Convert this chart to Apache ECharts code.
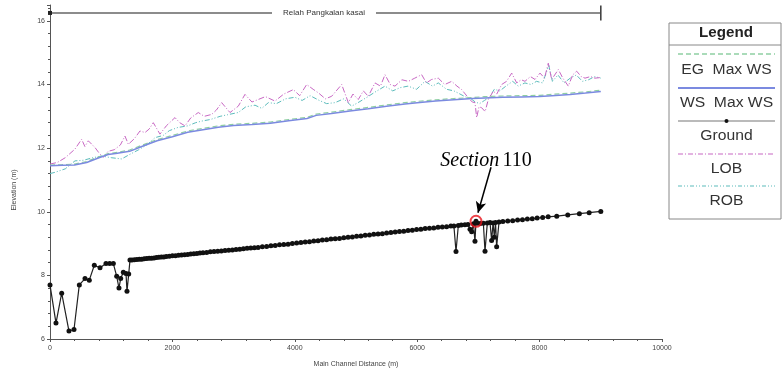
<!DOCTYPE html>
<html>
<head>
<meta charset="utf-8">
<script src="https://cdn.jsdelivr.net/npm/echarts@6/dist/echarts.min.js"></script>
<style>
  html, body { margin: 0; padding: 0; background: #fff; }
  #chart { width: 783px; height: 373px; }
</style>
</head>
<body>
<div id="chart"></div>
<script>
// Longitudinal profile of the reach: stations (m) and elevations (m)

const groundStation = [0, 98, 191, 310, 392, 479, 572, 642, 724, 817, 915, 975, 1035, 1090, 1127, 1155, 1198, 1242, 1258, 1286, 1307,
  1340, 1380, 1420, 1460, 1500, 1540, 1580, 1620, 1660, 1700, 1740, 1780, 1820, 1860, 1900, 1950, 2000, 2050, 2100, 2150, 2200,
  2250, 2300, 2350, 2400, 2450, 2500, 2560, 2620, 2680, 2740, 2800, 2860, 2920, 2980, 3040, 3100, 3160, 3220, 3280, 3340, 3400,
  3470, 3540, 3610, 3680, 3750, 3820, 3890, 3960, 4030, 4100, 4170, 4240, 4310, 4380, 4450, 4520, 4590, 4660, 4730, 4800, 4870,
  4940, 5010, 5080, 5150, 5220, 5290, 5360, 5430, 5500, 5570, 5640, 5710, 5780, 5850, 5920, 5990, 6060, 6130, 6200, 6270, 6340,
  6410, 6480, 6550, 6600, 6634, 6672, 6720, 6780, 6830, 6863, 6890, 6920, 6944, 6961, 6982, 7030, 7081, 7108, 7146, 7190, 7216,
  7240, 7260, 7280, 7298, 7337, 7400, 7480, 7560, 7640, 7720, 7800, 7880, 7960, 8050, 8140, 8280, 8460, 8650, 8810, 9000];
const groundElev = [7.70, 6.50, 7.44, 6.25, 6.30, 7.70, 7.90, 7.85, 8.32, 8.24, 8.37, 8.37, 8.37, 7.97, 7.60, 7.90, 8.10, 8.06, 7.50, 8.04, 8.48,
  8.48, 8.49, 8.50, 8.51, 8.51, 8.52, 8.53, 8.54, 8.54, 8.55, 8.56, 8.57, 8.58, 8.58, 8.59, 8.60, 8.62, 8.62, 8.63, 8.64, 8.65,
  8.66, 8.67, 8.68, 8.69, 8.70, 8.71, 8.72, 8.74, 8.75, 8.76, 8.77, 8.78, 8.79, 8.80, 8.81, 8.82, 8.84, 8.85, 8.86, 8.87, 8.88,
  8.90, 8.91, 8.93, 8.94, 8.96, 8.97, 8.98, 9.00, 9.02, 9.03, 9.05, 9.06, 9.08, 9.09, 9.11, 9.12, 9.14, 9.15, 9.16, 9.18, 9.20,
  9.21, 9.23, 9.24, 9.26, 9.27, 9.29, 9.30, 9.31, 9.33, 9.35, 9.36, 9.38, 9.39, 9.41, 9.42, 9.44, 9.45, 9.47, 9.48, 9.49, 9.51,
  9.52, 9.53, 9.55, 9.55, 8.75, 9.57, 9.58, 9.59, 9.60, 9.45, 9.37, 9.62, 9.07, 9.70, 9.64, 9.63, 9.64, 8.76, 9.65, 9.66, 9.10,
  9.65, 9.20, 9.66, 8.90, 9.68, 9.69, 9.71, 9.72, 9.74, 9.75, 9.77, 9.78, 9.80, 9.82, 9.84, 9.86, 9.90, 9.94, 9.97, 10.01];

const wsStation = [0, 200, 400, 600, 800, 950, 1100, 1300, 1500, 1750, 2000, 2250, 2500, 2750, 3000, 3300, 3600, 3900, 4200, 4350,
  4600, 4900, 5200, 5500, 5800, 6000, 6300, 6600, 6900, 7100, 7400, 7700, 8000, 8200, 8500, 8750, 9000];
const wsElev = [11.45, 11.46, 11.47, 11.55, 11.70, 11.80, 11.84, 11.90, 12.05, 12.23, 12.36, 12.50, 12.58, 12.66, 12.71, 12.74, 12.78,
  12.86, 12.93, 13.03, 13.09, 13.17, 13.24, 13.32, 13.39, 13.43, 13.48, 13.52, 13.56, 13.58, 13.60, 13.61, 13.62, 13.65, 13.69, 13.73, 13.78];
const egElev = [11.47, 11.48, 11.50, 11.58, 11.73, 11.83, 11.87, 11.94, 12.09, 12.27, 12.40, 12.54, 12.62, 12.70, 12.75, 12.78, 12.82,
  12.90, 12.97, 13.07, 13.13, 13.21, 13.28, 13.36, 13.43, 13.47, 13.52, 13.56, 13.59, 13.62, 13.64, 13.65, 13.66, 13.69, 13.73, 13.77, 13.82];

const lobStation = [0, 120, 250, 408, 517, 570, 626, 735, 800, 871, 950, 1050, 1150, 1225, 1280, 1380, 1470, 1552, 1620, 1688, 1797,
  1900, 2042, 2120, 2206, 2300, 2423, 2520, 2641, 2720, 2805, 2941, 3077, 3186, 3300, 3404, 3520, 3676, 3820, 3976, 4080, 4194, 4300,
  4384, 4500, 4602, 4766, 4875, 4950, 5038, 5120, 5201, 5310, 5400, 5474, 5560, 5637, 5750, 5855, 5960, 6073, 6150, 6236, 6345, 6450,
  6563, 6650, 6727, 6836, 6900, 6944, 6972, 7010, 7053, 7110, 7162, 7244, 7300, 7380, 7460, 7544, 7626, 7700, 7761, 7850, 7925, 8007,
  8080, 8142, 8197, 8306, 8380, 8469, 8540, 8605, 8680, 8742, 8830, 8905, 9000];
const lobElev = [11.50, 11.55, 11.70, 11.97, 12.28, 12.05, 12.23, 12.02, 11.85, 11.71, 11.90, 11.95, 12.10, 12.38, 12.12, 12.30, 12.54,
  12.49, 12.60, 12.80, 12.44, 12.70, 12.96, 12.80, 12.70, 12.95, 13.12, 13.00, 13.06, 13.20, 13.43, 13.12, 13.32, 13.69, 13.45, 13.53,
  13.62, 13.48, 13.70, 13.84, 13.65, 14.00, 13.85, 13.74, 13.55, 13.63, 14.00, 13.43, 13.70, 13.53, 13.80, 13.63, 14.05, 13.95, 14.31,
  14.00, 13.95, 14.15, 14.10, 14.20, 14.31, 14.05, 14.16, 14.20, 14.00, 14.10, 13.95, 13.84, 13.58, 13.45, 13.43, 12.96, 13.30, 13.27,
  13.15, 13.53, 13.79, 13.70, 14.00, 14.10, 14.36, 14.05, 14.15, 14.10, 14.25, 14.16, 14.36, 14.20, 14.67, 14.16, 14.47, 14.20, 13.95,
  14.30, 14.42, 14.25, 14.20, 14.25, 14.20, 14.22];

const robStation = [0, 82, 250, 408, 550, 700, 850, 1000, 1171, 1300, 1450, 1580, 1716, 1850, 1950, 2090, 2250, 2380, 2478, 2620, 2780,
  2900, 3077, 3200, 3350, 3460, 3568, 3700, 3850, 4000, 4120, 4250, 4400, 4520, 4657, 4800, 4929, 5050, 5180, 5300, 5474, 5600, 5720,
  5850, 5990, 6127, 6250, 6345, 6480, 6600, 6700, 6800, 6880, 6950, 7020, 7100, 7180, 7260, 7350, 7450, 7560, 7650, 7760, 7860, 7950,
  8050, 8150, 8210, 8300, 8400, 8500, 8600, 8700, 8800, 8900, 9000];
const robElev = [11.20, 11.24, 11.35, 11.60, 11.62, 11.70, 11.75, 11.70, 11.66, 11.80, 11.95, 12.10, 12.33, 12.40, 12.55, 12.65, 12.70,
  12.80, 12.85, 12.90, 13.00, 13.05, 13.12, 13.30, 13.35, 13.25, 13.43, 13.40, 13.55, 13.60, 13.50, 13.65, 13.50, 13.40, 13.43, 13.55,
  13.32, 13.45, 13.60, 13.75, 13.95, 13.80, 13.90, 13.95, 13.85, 14.10, 13.95, 14.05, 13.85, 13.80, 13.70, 13.60, 13.55, 13.45, 13.40,
  13.50, 13.60, 13.85, 13.80, 13.95, 14.10, 13.95, 14.05, 14.00, 14.10, 14.05, 14.60, 14.10, 14.30, 14.05, 14.20, 14.30, 14.10, 14.15,
  14.25, 14.20];

// Reach banner, highlighted cross-section and its callout
const reachName = 'Relah Pangkalan kasai';
const reachExtent = [0, 9000];
const reachElev = 16.25;
const section = { name: '110', station: 6961, elev: 9.70 };
const calloutText = [7124, 11.60];
const calloutArrow = [[7206, 11.4], [6993, 9.97]];

const xTicks = { min: 0, max: 10000, interval: 2000 };
const yTicks = { min: 6, max: 16.5, interval: 2 };

const pairs = (xs, ys) => xs.map((x, i) => [x, ys[i]]);

const C = {
  eg: '#8fcfa2',
  ws: '#7b8ae0',
  ground: '#111',
  lob: '#c868c4',
  rob: '#5cbcbc',
  axis: '#555',
  text: '#444'
};

const chart = echarts.init(document.getElementById('chart'), null, { renderer: 'canvas' });

const axisCommon = {
  axisLine: { lineStyle: { color: C.axis, width: 1 } },
  axisTick: { show: true, length: 3, lineStyle: { color: C.axis } },
  minorTick: { show: true, splitNumber: 5, length: 2, lineStyle: { color: C.axis } },
  splitLine: { show: false },
  axisLabel: { color: C.text, fontSize: 7, fontFamily: 'Liberation Sans' },
  nameTextStyle: { color: C.text, fontSize: 7, fontFamily: 'Liberation Sans' }
};

chart.setOption({
  animation: false,
  backgroundColor: '#fff',
  grid: { left: 50, right: 121, top: 5, bottom: 32 },
  xAxis: Object.assign({}, axisCommon, {
    type: 'value', min: xTicks.min, max: xTicks.max, interval: xTicks.interval,
    name: 'Main Channel Distance (m)', nameLocation: 'middle', nameGap: 22,
    axisLabel: Object.assign({}, axisCommon.axisLabel, { margin: 6, formatter: v => String(v) })
  }),
  yAxis: Object.assign({}, axisCommon, {
    type: 'value', min: yTicks.min, max: yTicks.max, interval: yTicks.interval,
    name: 'Elevation (m)', nameLocation: 'middle', nameGap: 32, nameRotate: 90,
    nameTextStyle: Object.assign({}, axisCommon.nameTextStyle, { padding: [0, 36, 0, 0] }),
    axisLabel: Object.assign({}, axisCommon.axisLabel, { showMaxLabel: false, margin: 5 })
  }),
  series: [
    {
      name: 'reach', type: 'line', silent: true, symbol: 'none',
      data: reachExtent.map(x => [x, reachElev]),
      lineStyle: { color: '#666', width: 1.5 },
      z: 1,
      markPoint: {
        silent: true,
        data: [
          { coord: [4477, reachElev], symbol: 'rect', symbolSize: [104, 10],
            itemStyle: { color: '#fff' },
            label: { show: true, position: 'inside', formatter: reachName, color: '#333', fontSize: 8, fontFamily: 'Liberation Sans' } },
          { coord: [reachExtent[1], reachElev], symbol: 'rect', symbolSize: [1.6, 15],
            itemStyle: { color: '#444' }, label: { show: false } },
          { coord: [reachExtent[0], reachElev], symbol: 'rect', symbolSize: [4, 4],
            itemStyle: { color: '#222' }, label: { show: false } }
        ]
      }
    },
    {
      name: 'ROB', type: 'line', symbol: 'none', data: pairs(robStation, robElev),
      lineStyle: { color: C.rob, width: 1, type: [5, 2, 1, 2, 1, 2] }, z: 2
    },
    {
      name: 'LOB', type: 'line', symbol: 'none', data: pairs(lobStation, lobElev),
      lineStyle: { color: C.lob, width: 1, type: [6, 2, 1, 2] }, z: 3
    },
    {
      name: 'EG Max WS', type: 'line', symbol: 'none', data: pairs(wsStation, egElev),
      lineStyle: { color: C.eg, width: 1.2, type: [5, 3] }, z: 4
    },
    {
      name: 'WS Max WS', type: 'line', symbol: 'none', data: pairs(wsStation, wsElev),
      lineStyle: { color: C.ws, width: 1.5 }, z: 5
    },
    {
      name: 'Ground', type: 'line', data: pairs(groundStation, groundElev),
      symbol: 'circle', symbolSize: 5, showSymbol: true,
      itemStyle: { color: C.ground }, lineStyle: { color: '#222', width: 1.2 }, z: 6
    },
    {
      name: 'Section', type: 'scatter', silent: true,
      data: [[section.station, section.elev]],
      symbol: 'circle', symbolSize: 11,
      itemStyle: { color: 'rgba(0,0,0,0)', borderColor: '#e8141c', borderWidth: 2 },
      z: 8,
      markLine: {
        silent: true, symbol: ['none', 'arrow'], symbolSize: [8, 11],
        lineStyle: { color: '#000', width: 1.5, type: 'solid' },
        label: { show: false },
        data: [[{ coord: calloutArrow[0] }, { coord: calloutArrow[1] }]]
      }
    }
  ]
});

// Callout text placed through the axis scales
const tp = chart.convertToPixel({ gridIndex: 0 }, calloutText);

// Legend panel
const LX = 669, LY = 23, LW = 112, LH = 196;
const lineX0 = 678, lineX1 = 775, midX = (lineX0 + lineX1) / 2;
const legendItems = [
  { label: 'EG  Max WS', y: 54, ty: 70, style: { stroke: C.eg, lineWidth: 1.5, lineDash: [5, 3] } },
  { label: 'WS  Max WS', y: 88, ty: 103, style: { stroke: C.ws, lineWidth: 1.8 } },
  { label: 'Ground', y: 121, ty: 136, style: { stroke: '#777', lineWidth: 1.2 }, dot: true },
  { label: 'LOB', y: 154, ty: 169, style: { stroke: C.lob, lineWidth: 1.2, lineDash: [5, 2, 1, 2] } },
  { label: 'ROB', y: 186, ty: 201, style: { stroke: C.rob, lineWidth: 1.2, lineDash: [4, 2, 1, 2, 1, 2] } }
];
const legendGraphics = [
  { type: 'rect', shape: { x: LX, y: LY, width: LW, height: LH }, style: { fill: '#fff', stroke: '#888', lineWidth: 1 } },
  { type: 'line', shape: { x1: LX, y1: 45, x2: LX + LW, y2: 45 }, style: { stroke: '#888', lineWidth: 1 } },
  { type: 'text', x: LX + LW / 2 + 1, y: 33, scaleX: 1.08,
    style: { text: 'Legend', fill: '#222', font: 'bold 14px "Liberation Sans"', align: 'center', verticalAlign: 'middle' } }
];
legendItems.forEach(it => {
  legendGraphics.push({ type: 'line', shape: { x1: lineX0, y1: it.y, x2: lineX1, y2: it.y }, style: it.style });
  if (it.dot) legendGraphics.push({ type: 'circle', shape: { cx: midX, cy: it.y, r: 2 }, style: { fill: '#111' } });
  legendGraphics.push({ type: 'text', x: midX, y: it.ty, scaleX: 1.12,
    style: { text: it.label, fill: '#333', font: '14px "Liberation Sans"', align: 'center', verticalAlign: 'middle' } });
});

chart.setOption({
  graphic: legendGraphics.concat([
    {
      type: 'text', x: tp[0], y: tp[1], z: 20,
      style: {
        text: '{i|Section} {n|' + section.name + '}',
        align: 'center', verticalAlign: 'middle',
        rich: {
          i: { fontFamily: 'Liberation Serif', fontStyle: 'italic', fontSize: 20, fill: '#000' },
          n: { fontFamily: 'Liberation Serif', fontSize: 20, fill: '#000' }
        }
      }
    }
  ])
});
</script>
</body>
</html>
